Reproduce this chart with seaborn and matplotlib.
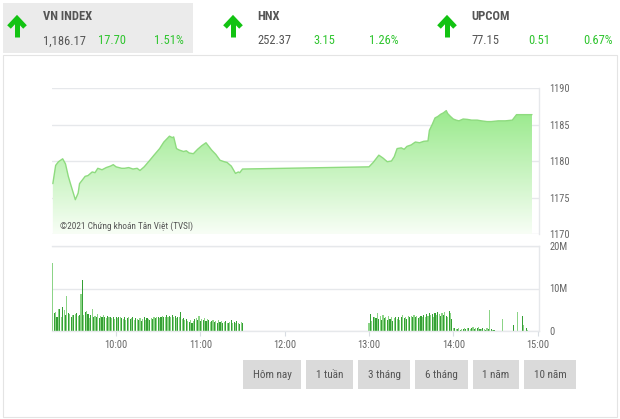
import matplotlib
matplotlib.use("Agg")
import matplotlib.pyplot as plt
from matplotlib import font_manager as fm
from matplotlib.patches import Rectangle
import numpy as np
import pandas as pd
import seaborn as sns

# ---------------- data ----------------
index_names = ["VN INDEX", "HNX", "UPCOM"]
index_values = ["1,186.17", "252.37", "77.15"]
index_changes = ["17.70", "3.15", "0.51"]
index_pcts = ["1.51%", "1.26%", "0.67%"]

price_times = ["09:15", "09:17", "09:19", "09:22", "09:24", "09:26", "09:28", "09:31", "09:33",
               "09:34", "09:36", "09:38", "09:40", "09:43", "09:45", "09:47", "09:50", "09:53",
               "09:56", "09:58", "10:00", "10:02", "10:04", "10:06", "10:09", "10:12", "10:15",
               "10:17", "10:20", "10:24", "10:27", "10:31", "10:34", "10:38", "10:40", "10:41",
               "10:43", "10:45", "10:48", "10:50", "10:52", "10:55", "10:58", "11:01", "11:04",
               "11:06", "11:08", "11:11", "11:14", "11:17", "11:19", "11:22", "11:25", "11:27",
               "11:28", "11:30",
               "13:00", "13:03", "13:07", "13:10", "13:13", "13:16", "13:18", "13:20", "13:23",
               "13:25", "13:27", "13:30", "13:33", "13:36", "13:39", "13:42", "13:43", "13:45",
               "13:47", "13:49", "13:51", "13:53", "13:55", "13:56", "13:58", "14:00", "14:02",
               "14:04", "14:07", "14:10", "14:13", "14:17", "14:20", "14:24", "14:27", "14:32",
               "14:37", "14:42", "14:45", "14:50", "14:56"]
price_values = [1176.9, 1179.4, 1179.9, 1180.3, 1179.6, 1177.9, 1176.6, 1174.7, 1175.6,
                1176.9, 1177.4, 1177.9, 1178.0, 1178.5, 1178.4, 1179.0, 1178.8, 1179.1,
                1179.3, 1179.5, 1179.2, 1179.1, 1179.0, 1179.0, 1179.1, 1178.9, 1179.0,
                1178.7, 1179.2, 1180.1, 1180.8, 1181.7, 1182.6, 1183.4, 1183.2, 1183.3,
                1181.7, 1181.5, 1181.3, 1181.4, 1181.1, 1181.0, 1181.6, 1182.1, 1182.5,
                1182.0, 1181.5, 1180.9, 1180.1, 1179.9, 1179.8, 1179.3, 1178.3, 1178.5,
                1178.4, 1178.9,
                1179.2, 1179.8, 1180.8, 1180.4, 1179.9, 1180.0, 1180.6, 1181.7, 1181.8,
                1181.6, 1182.0, 1182.2, 1182.6, 1182.5, 1182.7, 1182.75, 1184.2, 1185.0,
                1185.9, 1186.1, 1186.4, 1186.6, 1186.9, 1186.5, 1186.1, 1185.75, 1185.6,
                1185.5, 1185.75, 1185.7, 1185.6, 1185.6, 1185.5, 1185.4, 1185.4, 1185.5,
                1185.5, 1185.6, 1186.35, 1186.35, 1186.35]

vol_am_start = "09:15"
vol_am = [16.1, 4.2, 4.4, 3.2, 5.2, 5.2, 3.4, 5.6, 5.0, 3.8,
          8.3, 4.2, 4.0, 3.4, 3.8, 3.8, 4.0, 4.2, 3.6, 3.8,
          8.7, 12.1, 3.8, 4.4, 4.6, 4.0, 3.0, 3.8, 5.2, 3.4,
          3.6, 3.2, 4.0, 3.0, 3.6, 3.4, 3.8, 3.2, 3.0, 3.6,
          3.4, 3.2, 3.0, 3.4, 2.8, 3.2, 3.0, 3.4, 3.2, 3.0,
          2.8, 3.2, 2.6, 3.0, 3.4, 2.8, 3.0, 3.2, 2.6, 3.0,
          2.8, 2.6, 3.0, 2.4, 2.8, 3.2, 2.6, 3.0, 2.8, 2.6,
          3.0, 2.8, 3.2, 3.0, 3.4, 3.2, 3.0, 3.4, 3.6, 3.2,
          3.4, 3.8, 3.2, 3.6, 3.4, 3.8, 3.2, 3.6, 3.0, 3.4,
          3.2, 4.4, 2.8, 3.0, 2.6, 2.8, 2.4, 2.2, 2.6, 2.0,
          2.4, 2.8, 3.0, 2.6, 3.6, 2.4, 2.8, 2.6, 3.0, 2.4,
          2.8, 2.6, 2.2, 2.4, 2.6, 2.2, 2.4, 2.0, 2.6, 2.2,
          2.4, 2.0, 2.2, 2.4, 2.0, 1.8, 2.2, 2.6, 2.0, 2.2,
          1.8, 2.4, 2.0, 1.6, 2.2, 2.0]

vol_pm_start = "13:00"
vol_pm = [2.0, 4.0, 2.4, 3.2, 3.4, 3.0, 4.2, 2.8, 3.6, 2.6,
          3.8, 3.0, 3.2, 2.6, 3.6, 2.8, 3.4, 2.4, 3.0, 3.2,
          2.8, 3.4, 2.6, 3.2, 3.8, 3.0, 3.4, 2.8, 3.6, 3.2,
          3.6, 3.2, 3.8, 3.4, 3.6, 3.0, 3.4, 3.6, 3.2, 3.8,
          3.4, 4.0, 3.6, 4.2, 3.8, 4.0, 3.4, 4.2, 3.8, 4.4,
          4.0, 3.6, 4.2, 3.8, 4.4, 3.6, 3.2, 4.6, 4.2, 2.8,
          0.8, 0.6, 0.5, 0.4, 0.6, 0.3, 0.5, 0.4, 0.6, 0.5,
          0.8, 0.6, 0.4, 0.7, 0.9, 0.5, 0.6, 0.8, 1.0, 0.5,
          0.4, 0.8, 0.5, 0.3, 0.6, 0.4, 4.9, 0.5, 0.3, 0.2]

vol_late_times = ["14:35", "14:43", "14:46", "14:49", "14:50", "14:52", "14:53"]
vol_late = [2.9, 1.3, 4.4, 3.5, 1.5, 0.8, 0.3]

price_ticks = [1170, 1175, 1180, 1185, 1190]
vol_ticks = [0, 10, 20]
vol_tick_labels = ["0", "10M", "20M"]
time_ticks = ["10:00", "11:00", "12:00", "13:00", "14:00", "15:00"]
buttons = ["Hôm nay", "1 tuần", "3 tháng", "6 tháng", "1 năm", "10 năm"]
watermark = "©2021 Chứng khoán Tân Việt (TVSI)"


def to_min(s):
    h, m = s.split(":")
    return (int(h) - 9) * 60 + int(m)


# ---------------- style ----------------
sns.set_theme(style="white")
names = {f.name for f in fm.fontManager.ttflist}
narrow = None
for cand in ["Roboto Condensed", "Liberation Sans Narrow", "Open Sans Condensed", "Noto Sans Condensed"]:
    if cand in names:
        narrow = cand
        break
if narrow:
    FONT = [narrow, "Roboto", "DejaVu Sans"]
    SCALE = 1.0
else:
    FONT = ["Roboto", "DejaVu Sans"]
    SCALE = 0.9
plt.rcParams["font.family"] = FONT

GREY_TXT = "#555555"
TICK_TXT = "#666666"
GREEN_TXT = "#2ec52e"
ARROW = "#12c312"
GRID = "#e6e8eb"

fig = plt.figure(figsize=(6.2, 4.19), dpi=100)
W, H = 620, 419

bg = fig.add_axes([0, 0, 1, 1], zorder=0)
bg.set_xlim(0, W)
bg.set_ylim(H, 0)
bg.axis("off")

bg.add_patch(Rectangle((3, 3), 190, 50, fc="#ebebeb", ec="none"))
bg.add_patch(Rectangle((3, 55), 614, 362, fc="white", ec="#e4e4e4", lw=0.8))

HS = 9 * SCALE
arrow_x = [17, 233, 447]
text_x = [43, 257, 471]
chg_x = [98, 313, 528]
pct_x = [154, 369, 583]
for i in range(3):
    ax_ = arrow_x[i]
    bg.plot([ax_, ax_], [37, 19], color=ARROW, lw=3.6, solid_capstyle="butt")
    bg.plot([ax_ - 8, ax_, ax_ + 8], [27, 18.5, 27], color=ARROW, lw=3.6,
            solid_joinstyle="miter", solid_capstyle="butt")
    bg.text(text_x[i], 17, index_names[i], fontsize=HS, fontweight="bold",
            color=GREY_TXT, va="center", ha="left")
    bg.text(text_x[i], 41, index_values[i], fontsize=HS, color=GREY_TXT,
            va="center", ha="left")
    bg.text(chg_x[i], 41, index_changes[i], fontsize=HS, color=GREEN_TXT,
            va="center", ha="left")
    bg.text(pct_x[i], 41, index_pcts[i], fontsize=HS, color=GREEN_TXT,
            va="center", ha="left")

btn_x = [243, 306, 358, 415, 473, 524]
btn_w = [58, 47, 52, 53, 46, 52]
for bx, bw, lab in zip(btn_x, btn_w, buttons):
    bg.add_patch(Rectangle((bx, 360), bw, 29, fc="#dadada", ec="none"))
    bg.text(bx + bw / 2, 375, lab, fontsize=8 * SCALE, color=GREY_TXT, ha="center", va="center")

# ---------------- price chart ----------------
X0, X1 = 14.4, 361.0
axp = fig.add_axes([52 / W, (H - 234) / H, 487 / W, 146 / H], zorder=1)
axp.set_facecolor("none")

pt = [to_min(s) for s in price_times]
df_p = pd.DataFrame({"t": pt, "price": price_values})

fill = axp.fill_between(df_p["t"], df_p["price"], 1170, facecolor="none", edgecolor="none")
top_c = np.array([150, 233, 136]) / 255
bot_c = np.array([248, 254, 246]) / 255
grad_y = np.linspace(0, 1, 256)[:, None]
rgb = bot_c[None, :] + (top_c - bot_c)[None, :] * grad_y[..., None] ** 1.0
rgb = np.repeat(rgb, 2, axis=1)
im = axp.imshow(rgb, extent=[X0, X1, 1170, 1187.5], origin="lower", aspect="auto", zorder=1)
im.set_clip_path(fill.get_paths()[0], transform=axp.transData)

sns.lineplot(data=df_p, x="t", y="price", ax=axp, color="#8edb7f", linewidth=1.0, zorder=2)

axp.set_xlim(X0, X1)
axp.set_ylim(1170, 1190)
axp.set_yticks(price_ticks)
axp.yaxis.tick_right()
axp.tick_params(axis="y", length=0, pad=7.5, labelsize=7.5 * SCALE, labelcolor=TICK_TXT)
axp.set_xticks([])
axp.grid(axis="y", color=GRID, lw=1.0)
axp.set_axisbelow(True)
for s in ["left", "bottom", "top"]:
    axp.spines[s].set_visible(False)
axp.spines["right"].set_color(GRID)
axp.spines["right"].set_linewidth(1.0)
axp.set_xlabel("")
axp.set_ylabel("")
axp.text(60, 226, watermark, transform=bg.transData, fontsize=6.7, color=GREY_TXT,
         ha="left", va="center")

# ---------------- volume chart ----------------
axv = fig.add_axes([52 / W, (H - 331) / H, 487 / W, (331 - 246) / H], zorder=1)
axv.set_facecolor("none")

am_t = [to_min(vol_am_start) + i for i in range(len(vol_am))]
pm_t = [to_min(vol_pm_start) + i for i in range(len(vol_pm))]
late_t = [to_min(s) for s in vol_late_times]
vt = am_t + pm_t + late_t
vv = vol_am + vol_pm + vol_late
shade = ["light" if i % 2 == 0 else "dark" for i in range(len(vt))]
pal = {"light": "#8cd487", "dark": "#35a035"}
axv.bar(vt, vv, width=0.8, color=[pal[s] for s in shade], linewidth=0, zorder=2)

axv.set_xlim(X0, X1)
axv.set_ylim(0, 20)
axv.set_yticks(vol_ticks)
axv.set_yticklabels(vol_tick_labels)
axv.yaxis.tick_right()
axv.tick_params(axis="y", length=0, pad=7.5, labelsize=7.5 * SCALE, labelcolor=TICK_TXT)
axv.set_xticks([to_min(s) for s in time_ticks])
axv.set_xticklabels(time_ticks)
axv.tick_params(axis="x", length=3.5, width=0.8, color="#d8dce2", pad=3,
                labelsize=7.5 * SCALE, labelcolor=TICK_TXT, bottom=True)
axv.grid(axis="y", color=GRID, lw=1.0)
axv.set_axisbelow(True)
axv.spines["left"].set_visible(False)
for s in ["right", "bottom", "top"]:
    axv.spines[s].set_color(GRID)
    axv.spines[s].set_linewidth(1.0)

fig.savefig("out.png", dpi=100, facecolor="white")
